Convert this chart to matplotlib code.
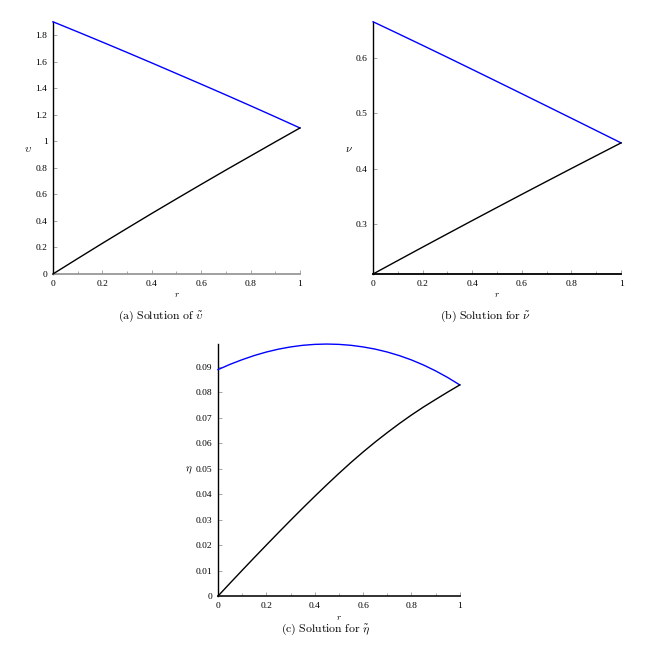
import matplotlib
matplotlib.use("Agg")
import matplotlib.pyplot as plt
from matplotlib.ticker import FuncFormatter, MultipleLocator

plt.rcParams["mathtext.fontset"] = "cm"

# radial coordinate
r = [0.0, 0.1, 0.2, 0.3, 0.4, 0.5, 0.6, 0.7, 0.8, 0.9, 1.0]
r_fine = [0.0, 0.05, 0.1, 0.15, 0.2, 0.25, 0.3, 0.35, 0.4, 0.45, 0.5,
          0.55, 0.6, 0.65, 0.7, 0.75, 0.8, 0.85, 0.9, 0.95, 1.0]

# (a) upsilon
ups_upper = [1.9, 1.824, 1.747, 1.669, 1.590, 1.510, 1.430, 1.349, 1.267, 1.184, 1.100]
ups_lower = [0.0, 0.116, 0.231, 0.344, 0.456, 0.566, 0.675, 0.783, 0.889, 0.995, 1.100]

# (b) nu
nu_upper = [0.665, 0.6438, 0.6224, 0.6008, 0.579, 0.5571, 0.5351, 0.513, 0.4909, 0.4687, 0.4465]
nu_lower = [0.21, 0.2343, 0.2585, 0.2825, 0.3064, 0.3301, 0.3537, 0.3771, 0.4004, 0.4235, 0.4465]

# (c) eta
eta_upper = [0.0888, 0.09088, 0.0927, 0.09433, 0.0957, 0.09683, 0.0977, 0.09833,
             0.0987, 0.09883, 0.0987, 0.09833, 0.0977, 0.09684, 0.0957, 0.09429,
             0.0926, 0.0906, 0.0883, 0.0857, 0.0828]
eta_lower = [0.0, 0.00508, 0.0101, 0.01508, 0.0200, 0.02488, 0.0297, 0.03445,
             0.0391, 0.04366, 0.0481, 0.0524, 0.0565, 0.0604, 0.0641, 0.06765,
             0.0710, 0.07415, 0.0771, 0.0800, 0.0828]

fmt = FuncFormatter(lambda v, p: f"{v:g}")

fig = plt.figure(figsize=(6.5, 6.5), dpi=100)


def panel(rect, x, upper, lower, ylim, yticks, ylab, ylab_xy, bottom_col):
    ax = fig.add_axes(rect)
    ax.plot(x, upper, color="#0000ff", lw=1.0, clip_on=False, zorder=3)
    ax.plot(x, lower, color="black", lw=1.0, clip_on=False, zorder=3)
    ax.set_xlim(0, 1)
    ax.set_ylim(*ylim)
    ax.set_xticks([0, 0.2, 0.4, 0.6, 0.8, 1.0])
    ax.xaxis.set_minor_locator(MultipleLocator(0.1))
    ax.set_yticks(yticks)
    ax.xaxis.set_major_formatter(fmt)
    ax.yaxis.set_major_formatter(fmt)
    for s in ["top", "right"]:
        ax.spines[s].set_visible(False)
    ax.spines["left"].set_linewidth(1.0)
    ax.spines["bottom"].set_linewidth(1.3)
    ax.spines["bottom"].set_color(bottom_col)
    ax.tick_params(which="both", direction="in", color="#999999", width=0.6,
                   labelsize=6.8, pad=4)
    ax.tick_params(which="major", length=3)
    ax.tick_params(which="minor", length=2.5)
    for lab in ax.get_xticklabels() + ax.get_yticklabels():
        lab.set_family("Liberation Serif")
    fig.text(ylab_xy[0], ylab_xy[1], ylab, fontsize=8, ha="center", va="center")
    fig.text(rect[0] + rect[2] / 2, ylab_xy[2], r"$r$", fontsize=6.5,
             ha="center", va="center")
    return ax


panel([0.0815, 0.5785, 0.38, 0.388], r, ups_upper, ups_lower, (0, 1.9),
      [0, 0.2, 0.4, 0.6, 0.8, 1.0, 1.2, 1.4, 1.6, 1.8],
      r"$\upsilon$", (28 / 650, 1 - 149 / 650, 1 - 295 / 650), "#999999")
panel([0.574, 0.5785, 0.3815, 0.388], r, nu_upper, nu_lower, (0.21, 0.665),
      [0.3, 0.4, 0.5, 0.6],
      r"$\nu$", (349 / 650, 1 - 149 / 650, 1 - 295 / 650), "black")
panel([0.3354, 0.083, 0.372, 0.3877], r_fine, eta_upper, eta_lower, (0, max(eta_upper)),
      [0, 0.01, 0.02, 0.03, 0.04, 0.05, 0.06, 0.07, 0.08, 0.09],
      r"$\eta$", (189 / 650, 1 - 470 / 650, 1 - 617 / 650), "#222222")

fig.text(161 / 650, 1 - 316 / 650, r"$\mathrm{(a)\ Solution\ of\ }\tilde{\upsilon}$",
         fontsize=8.5, ha="center", va="center")
fig.text(486 / 650, 1 - 316 / 650, r"$\mathrm{(b)\ Solution\ for\ }\tilde{\nu}$",
         fontsize=8.5, ha="center", va="center")
fig.text(326 / 650, 1 - 629 / 650, r"$\mathrm{(c)\ Solution\ for\ }\tilde{\eta}$",
         fontsize=8.5, ha="center", va="center")

fig.savefig("out.png", dpi=100)
